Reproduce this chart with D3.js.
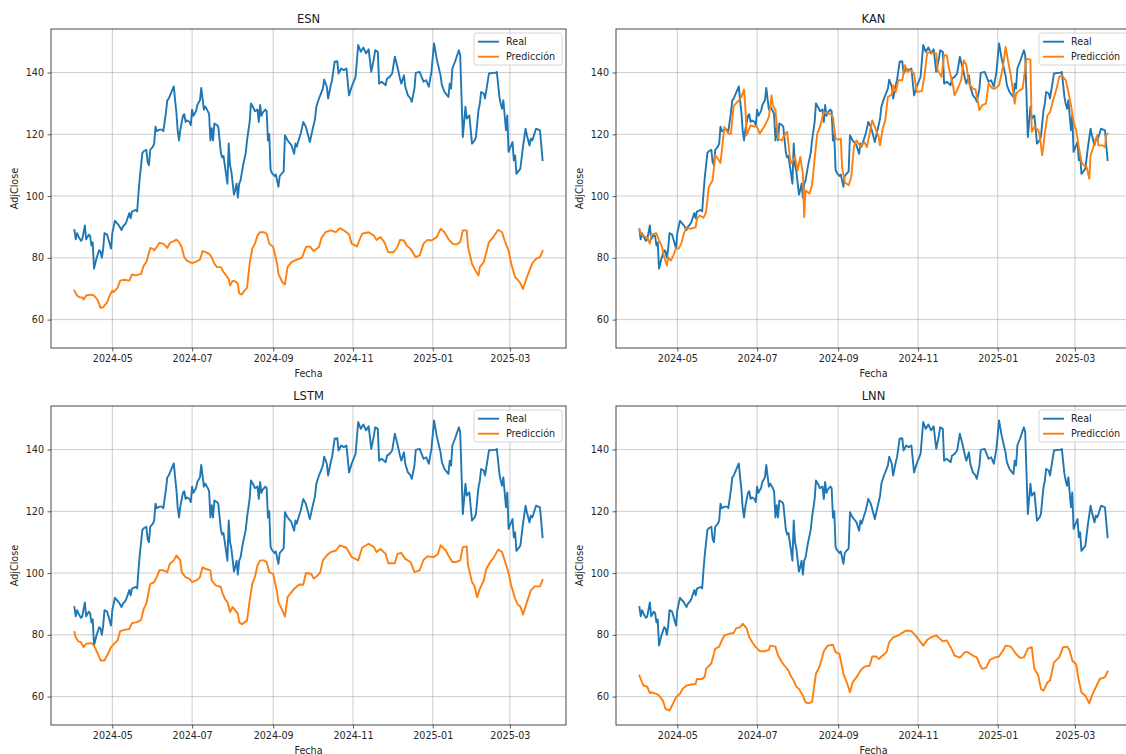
<!DOCTYPE html>
<html>
<head>
<meta charset="utf-8">
<script src="https://cdn.jsdelivr.net/npm/d3@7"></script>
<style>
  html, body { margin: 0; padding: 0; background: #fff; }
  svg { display: block; font-family: "DejaVu Sans", sans-serif; }
</style>
</head>
<body>
<svg id="chart" width="1126" height="754"></svg>
<script>
// Series are stored as [day, AdjClose] pairs; day counts calendar days from 2024-04-01.
const startDate = new Date(2024, 3, 1);

const xTickLabels = ["2024-05", "2024-07", "2024-09", "2024-11", "2025-01", "2025-03"];
const yTickValues = [60, 80, 100, 120, 140];
const modelNames = ["ESN", "KAN", "LSTM", "LNN"];
const legendLabels = ["Real", "Predicción"];

const realSeries = [
  [1,89],[2,86],[3,88],[4,87],[6,85.5],[7,86],[9,90.5],[10,86],[12,87.5],[13,87],[14,84],[15,85],[16,76.5],[18,80],[20,82.5],[21,82],[22,80],[23,83],[24,88],[26,87.5],[27,86],[29,83],[30,88],[32,92],[34,91],[35,90.5],[37,89],[38,90],[40,91],[41,92],[43,94.5],[44,92.8],[45,95],[48,95.5],[49,95],[50,101],[51,106],[53,114],[54,114.5],[56,115],[57,111],[58,110],[59,115],[61,116],[62,117],[63,122.5],[64,121],[66,121.5],[68,121.5],[69,121],[71,127],[72,131],[73,131.5],[75,133.5],[77,135.5],[78,131],[79,127],[80,121],[81,118],[82,121.5],[84,126],[85,126.5],[86,124],[87,124.5],[89,124],[90,123],[91,128],[92,126],[94,127.5],[95,129.5],[97,131],[98,135],[100,128],[101,129],[103,127.5],[104,126.5],[105,118],[106,122],[107,118],[108,123.5],[110,123],[111,122.5],[113,114],[114,112.5],[115,113],[116,110],[117,107],[118,104],[119,117],[120,110],[121,108],[123,100.5],[124,102],[125,104],[126,99.5],[127,104],[128,105],[130,110],[132,114],[133,118],[135,124],[136,130],[138,128.5],[139,127.5],[141,128],[142,124],[143,129.5],[144,126],[145,127],[147,128],[148,127.5],[149,118],[150,120],[151,108.5],[152,107.5],[154,106.5],[155,107],[157,103],[158,106.5],[160,107.5],[161,108],[162,119.7],[164,118],[166,117],[167,116.4],[169,113.7],[170,117],[171,116],[172,117.5],[174,120.2],[175,122],[176,124],[178,122.4],[179,120.8],[181,117.5],[183,121.3],[185,125],[186,128.9],[188,131.6],[189,132.6],[191,134.8],[192,137.7],[194,135.4],[195,131.6],[197,135.9],[198,137.5],[200,143.5],[202,143.7],[203,139.7],[205,141.3],[207,140.8],[209,141.3],[211,132.6],[213,135.4],[216,138.6],[218,148.9],[220,146.7],[222,148.1],[224,146.2],[226,147.5],[228,140.2],[230,144.5],[231,147.2],[233,146.7],[234,136.4],[236,137],[239,135.9],[240,138],[242,138.6],[244,139.7],[246,145.1],[248,141.8],[250,138],[251,136.4],[253,139.1],[254,135.4],[256,132.6],[258,131.6],[259,130.5],[261,134.8],[262,139.9],[265,140.2],[268,137],[270,137.5],[272,135.4],[274,140.2],[276,149.4],[278,144.5],[280,140.8],[281,139],[282,135.9],[284,133.7],[286,132.6],[287,132.1],[288,136.4],[289,134.8],[290,141.3],[292,143.5],[295,147.2],[296,145.6],[298,119.1],[300,128.9],[301,125.1],[303,126.1],[305,117],[307,118],[308,119.1],[310,127.8],[311,129.9],[312,133.7],[314,133.2],[315,131.6],[316,134.3],[318,139.7],[321,139.9],[323,139.9],[324,140.2],[326,132.1],[327,129.9],[328,128.3],[329,131],[331,121.3],[332,126.1],[333,114.3],[334,115.4],[336,117.5],[337,111.6],[338,113.2],[339,107.2],[341,108.3],[342,108.9],[344,115.9],[346,121.8],[347,119.7],[349,116.4],[350,118.6],[351,118],[352,119.1],[354,121.8],[357,121.3],[359,111.6]
];

const esnPred = [
  [1,69.4],[3,67.8],[5,67.2],[7,67.2],[8,66.5],[10,67.8],[14,68.1],[16,67.8],[19,66.2],[21,63.8],[23,64],[26,65.6],[28,67.8],[30,69.4],[31,68.9],[34,70.3],[36,72.6],[39,72.9],[43,72.6],[45,74.6],[48,74.3],[52,74.8],[54,77.5],[56,78.6],[59,83.2],[61,82.9],[62,82.4],[64,83.5],[66,84.8],[69,84.6],[72,83.2],[74,84.8],[77,85.4],[79,85.9],[81,85.1],[83,83.5],[85,80.2],[87,79.1],[91,78.3],[94,78.8],[97,79.4],[99,82.2],[101,81.9],[104,81.3],[106,80.2],[108,78.1],[110,77],[113,77],[115,75.4],[117,74.3],[119,73.2],[120,71],[122,72.6],[124,72.4],[126,71.6],[127,68.5],[129,68.1],[131,69.4],[133,70.3],[135,78.1],[137,82.9],[139,84.6],[141,87.2],[143,88.3],[146,88.3],[148,87.8],[150,84.6],[153,83.5],[156,78.1],[157,74.8],[160,72.1],[162,71.4],[164,77],[167,78.6],[171,79.4],[175,80],[178,83.5],[181,83.7],[184,82.2],[188,83.5],[190,86.5],[193,88.3],[197,88.9],[201,88.3],[204,89.6],[207,88.9],[211,87.6],[213,84.6],[217,83.7],[221,87.8],[226,88.3],[230,87.2],[232,85.8],[235,86.7],[238,85.1],[241,81.8],[245,81.8],[248,83.5],[250,85.8],[253,85.6],[255,84],[258,82.9],[262,80.2],[265,80.8],[268,84.6],[271,85.8],[274,85.6],[278,86.7],[281,89.4],[284,88.3],[287,86.1],[290,84.6],[293,84.3],[296,85.1],[298,88.9],[301,88.9],[302,83.5],[305,78.1],[307,76.4],[310,74.3],[311,77],[314,78.6],[316,81.8],[318,85.1],[321,86.5],[325,89.1],[328,88.3],[330,85.6],[333,82.4],[335,78.1],[338,73.7],[340,72.9],[342,71.8],[344,69.9],[347,73.7],[351,78.1],[354,79.7],[357,80.2],[359,82.2]
];

const kanPred = [
  [1,89.4],[2,87.8],[4,87.2],[7,86.5],[9,84.6],[10,87.2],[12,87.8],[14,88],[16,85.6],[18,84],[20,80.2],[22,77.5],[23,80.2],[25,79.1],[27,80.8],[29,83.2],[31,82.9],[33,84.6],[35,87.8],[37,89.9],[40,89.4],[44,89.9],[45,92.6],[47,93.7],[50,93],[52,94.8],[54,102.9],[57,105.1],[59,113.2],[61,112.1],[63,110.7],[66,122.4],[69,120.2],[71,120.2],[73,129.1],[77,131],[79,132.1],[81,134.5],[82,128.9],[83,119.7],[86,122.9],[88,122.6],[91,122.4],[93,120.2],[97,122.9],[100,125.6],[102,132.6],[103,129.4],[105,127.8],[107,118.6],[110,118],[111,119.1],[114,120.8],[116,112.7],[117,110.5],[120,112.7],[122,108.3],[124,112.7],[126,107.2],[127,93.2],[128,101.8],[131,100.8],[133,103.5],[135,112.1],[137,120.2],[139,122.4],[142,127.2],[144,126.9],[147,126.6],[149,125.6],[151,118.6],[153,118.3],[155,118.6],[156,109.4],[158,104.5],[161,103.5],[163,106.2],[165,115.9],[167,118],[170,116],[173,117.5],[175,115.9],[177,120.2],[179,124.5],[181,122.4],[184,119.1],[185,116.4],[187,121.8],[189,124.5],[191,132.1],[194,132.9],[195,135.9],[197,133.7],[199,137.5],[202,137.5],[204,142.4],[206,140.2],[208,140.8],[211,139.7],[213,133.7],[217,134],[219,139.1],[221,146.2],[223,146.7],[226,146.2],[228,146.2],[229,140.8],[232,138.6],[234,145.6],[236,145.6],[238,140.8],[241,135.4],[242,132.6],[245,135.4],[247,137.5],[249,144],[251,142.4],[253,136.4],[256,134.8],[258,134.5],[261,127.8],[263,129.4],[266,129.9],[268,136.4],[271,134.8],[273,134.8],[276,135.9],[279,141.8],[281,148.3],[283,143.5],[285,139.1],[288,129.9],[289,133.2],[292,134.3],[294,134.8],[297,144.5],[300,144.2],[301,120.8],[303,122.4],[306,121.3],[307,119.7],[309,113.2],[311,120.2],[313,126.1],[315,127.2],[317,130.5],[320,134.8],[322,138.6],[324,139.1],[327,137.5],[329,133.7],[331,129.4],[333,124],[335,121.3],[337,115.9],[339,111],[341,109.9],[343,109.4],[345,105.6],[346,113.2],[349,117],[351,119.7],[352,116.4],[355,116.4],[357,115.9],[358,119.7],[359,120.2]
];

const lstmPred = [
  [1,80.9],[2,79.2],[4,77.9],[6,77.6],[8,76],[10,77.1],[14,77.3],[16,76.5],[19,73.8],[21,71.7],[24,71.7],[26,73.3],[29,76],[31,76.9],[34,78.2],[36,81.2],[39,81.6],[43,81.9],[45,83.8],[49,84.1],[52,84.9],[54,88.4],[56,90.1],[59,96.5],[61,96.8],[62,97.1],[64,98.7],[66,100.9],[69,100.9],[72,100.3],[74,103],[77,104.1],[79,105.7],[82,104.1],[83,100.3],[86,98.7],[89,98.1],[91,97.1],[95,97.8],[97,98.7],[99,101.9],[101,101.4],[105,100.9],[106,97.6],[109,96],[113,95.5],[114,93.8],[116,91.7],[118,90.6],[120,87.4],[122,89],[124,87.9],[126,86.8],[127,84.1],[129,83.4],[133,84.6],[135,91.1],[137,96.5],[139,98.7],[141,102.5],[143,104.1],[146,104.1],[148,103.6],[150,100.3],[153,99.7],[156,93.8],[157,90.6],[160,87.9],[162,85.9],[164,92.2],[169,94.9],[173,96.3],[176,96.2],[178,100],[182,99.8],[184,98.2],[187,99.2],[189,100.3],[191,104.1],[194,105.7],[197,106.8],[201,107.3],[204,109],[209,108.2],[213,105.2],[218,104.1],[221,108.2],[226,109.5],[230,108.4],[232,106.8],[235,107.8],[239,106.2],[241,103.2],[246,103.2],[248,106.2],[251,106.5],[254,104.6],[258,103.6],[261,100.3],[265,100.9],[268,104.3],[271,105.4],[276,105.2],[279,106.2],[281,109],[285,107.3],[287,105.7],[290,103.6],[293,103.6],[296,104.1],[298,108.4],[301,108.6],[302,102.5],[305,97.1],[307,95.7],[309,92.2],[311,94.9],[314,97.6],[316,101.4],[319,103.6],[321,104.6],[325,107.6],[328,106.8],[330,104.1],[333,100],[335,96],[338,91.7],[340,89.8],[342,89.2],[344,86.6],[347,90.6],[350,94.4],[353,95.7],[357,95.7],[359,97.8]
];

const lnnPred = [
  [1,66.8],[2,65.7],[4,63.6],[7,63.2],[9,61.1],[10,61.4],[14,60.9],[16,60.3],[19,58.7],[21,56],[24,55.5],[26,57.1],[29,59.8],[32,60.9],[34,62.5],[37,63.6],[40,63.9],[44,64.1],[45,65.7],[49,65.7],[51,66.5],[52,69],[56,70.8],[59,75.5],[62,76.2],[64,78.2],[66,79.8],[70,80.4],[73,80.6],[75,82.1],[78,82.5],[80,83.6],[83,82.1],[85,79.2],[88,77.1],[90,76],[93,74.7],[97,74.7],[100,75.1],[101,76.5],[105,76.2],[107,73.3],[110,71.1],[112,70],[115,68.4],[117,66.5],[119,65.2],[121,63.2],[123,62.5],[126,60.3],[128,58.2],[130,57.8],[133,58.2],[136,67.4],[139,70],[142,74.7],[145,76.5],[149,76.8],[151,74.4],[154,73.8],[157,67.4],[160,64.1],[162,61.4],[164,64.6],[167,66.3],[170,68.4],[173,69.7],[177,70],[179,73],[182,73],[184,72.2],[187,73.3],[190,74.4],[192,77.6],[195,79.2],[199,79.8],[201,80.4],[205,81.4],[209,81.2],[212,79.8],[215,78.2],[218,76.5],[221,78.3],[224,79.2],[228,79.8],[231,78.7],[233,77.9],[236,78.2],[239,76],[242,73.3],[246,72.6],[250,74.4],[252,74.4],[256,73.3],[259,72.7],[261,70.6],[263,69],[266,69.3],[269,71.9],[273,72.7],[276,73],[279,74.9],[281,76.5],[285,76.2],[289,73.8],[292,72.6],[295,72.7],[298,75.5],[301,76],[303,69],[306,66.8],[308,62.5],[310,61.9],[313,64.6],[315,65.2],[318,71.1],[322,72.7],[325,76],[328,76.2],[330,74.9],[332,71.7],[335,70.4],[337,65.2],[339,61.4],[342,60.3],[345,57.8],[347,60.3],[350,63],[353,65.7],[357,66.3],[359,68.1]
];

const predictions = [esnPred, kanPred, lstmPred, lnnPred];

// ---- figure layout -------------------------------------------------------
const colors = { real: "#1f77b4", pred: "#ff7f0e" };
const axW = 515, axH = 319;
const panelOrigins = [[51, 29], [616, 29], [51, 406], [616, 406]];
const tickFont = 9.6, titleFont = 11.5;
const lineWidth = 1.9;

const toDate = d => d3.timeDay.offset(startDate, d[0]);

// Shared limits with matplotlib-style 5% margins
const allSeries = [realSeries, ...predictions];
const allDates = allSeries.flat().map(toDate);
const allVals = allSeries.flat().map(d => d[1]);
const [d0, d1] = d3.extent(allDates);
const dPad = (d1 - d0) * 0.05;
const [v0, v1] = d3.extent(allVals);
const vPad = (v1 - v0) * 0.05;

const svg = d3.select("#chart");
svg.append("rect").attr("width", 1126).attr("height", 754).attr("fill", "#fff");

const parseMonth = d3.timeParse("%Y-%m");
const xTicks = xTickLabels.map(parseMonth);

modelNames.forEach((name, i) => {
  const [ox, oy] = panelOrigins[i];
  const g = svg.append("g").attr("transform", `translate(${ox},${oy})`);

  const x = d3.scaleTime()
    .domain([new Date(+d0 - dPad), new Date(+d1 + dPad)])
    .range([0, axW]);
  const y = d3.scaleLinear()
    .domain([v0 - vPad, v1 + vPad])
    .range([axH, 0]);

  g.append("rect").attr("width", axW).attr("height", axH).attr("fill", "#fff");

  // grid
  g.append("g").selectAll("line").data(xTicks).join("line")
    .attr("x1", d => x(d)).attr("x2", d => x(d))
    .attr("y1", 0).attr("y2", axH)
    .attr("stroke", "#b0b0b0").attr("stroke-opacity", 0.7).attr("stroke-width", 0.9);
  g.append("g").selectAll("line").data(yTickValues).join("line")
    .attr("x1", 0).attr("x2", axW)
    .attr("y1", d => y(d)).attr("y2", d => y(d))
    .attr("stroke", "#b0b0b0").attr("stroke-opacity", 0.7).attr("stroke-width", 0.9);

  // series
  const clipId = `clip-${i}`;
  g.append("clipPath").attr("id", clipId)
    .append("rect").attr("width", axW).attr("height", axH);
  const line = d3.line().x(d => x(toDate(d))).y(d => y(d[1]));
  const plot = g.append("g").attr("clip-path", `url(#${clipId})`);
  plot.append("path").datum(realSeries)
    .attr("d", line).attr("fill", "none")
    .attr("stroke", colors.real).attr("stroke-width", lineWidth)
    .attr("stroke-linejoin", "round").attr("stroke-linecap", "square");
  plot.append("path").datum(predictions[i])
    .attr("d", line).attr("fill", "none")
    .attr("stroke", colors.pred).attr("stroke-width", lineWidth)
    .attr("stroke-linejoin", "round").attr("stroke-linecap", "square");

  // axes
  const xAxis = d3.axisBottom(x).tickValues(xTicks)
    .tickFormat(d3.timeFormat("%Y-%m")).tickSize(3.5).tickPadding(3.5).tickSizeOuter(0);
  const yAxis = d3.axisLeft(y).tickValues(yTickValues)
    .tickSize(3.5).tickPadding(3.5).tickSizeOuter(0);
  const gx = g.append("g").attr("transform", `translate(0,${axH})`).call(xAxis);
  const gy = g.append("g").call(yAxis);
  [gx, gy].forEach(a => {
    a.select(".domain").remove();
    a.selectAll(".tick line").attr("stroke", "#333").attr("stroke-width", 0.8);
    a.selectAll(".tick text").attr("fill", "#262626")
      .attr("font-size", tickFont).attr("font-family", "DejaVu Sans");
  });

  // spines
  g.append("rect").attr("width", axW).attr("height", axH)
    .attr("fill", "none").attr("stroke", "#333").attr("stroke-width", 0.9);

  // labels
  g.append("text").attr("x", axW / 2).attr("y", -10)
    .attr("text-anchor", "middle").attr("dominant-baseline", "central")
    .attr("font-size", titleFont).attr("fill", "#1a1a1a").text(name);
  g.append("text").attr("x", axW / 2).attr("y", axH + 25)
    .attr("text-anchor", "middle").attr("dominant-baseline", "central")
    .attr("font-size", tickFont).attr("fill", "#262626").text("Fecha");
  g.append("text")
    .attr("transform", `translate(-37,${axH / 2}) rotate(-90)`)
    .attr("text-anchor", "middle").attr("dominant-baseline", "central")
    .attr("font-size", tickFont).attr("fill", "#262626").text("AdjClose");

  // legend
  const lw = 88, lh = 32;
  const lg = g.append("g").attr("transform", `translate(${axW - 4 - lw},4)`);
  lg.append("rect").attr("width", lw).attr("height", lh).attr("rx", 2.5)
    .attr("fill", "#fff").attr("fill-opacity", 0.8)
    .attr("stroke", "#cccccc").attr("stroke-width", 0.8);
  [colors.real, colors.pred].forEach((c, k) => {
    const ry = 8.7 + k * 15;
    lg.append("line").attr("x1", 4).attr("x2", 25).attr("y1", ry).attr("y2", ry)
      .attr("stroke", c).attr("stroke-width", lineWidth);
    lg.append("text").attr("x", 32).attr("y", ry)
      .attr("dominant-baseline", "central")
      .attr("font-size", tickFont).attr("fill", "#262626").text(legendLabels[k]);
  });
});
</script>
</body>
</html>
